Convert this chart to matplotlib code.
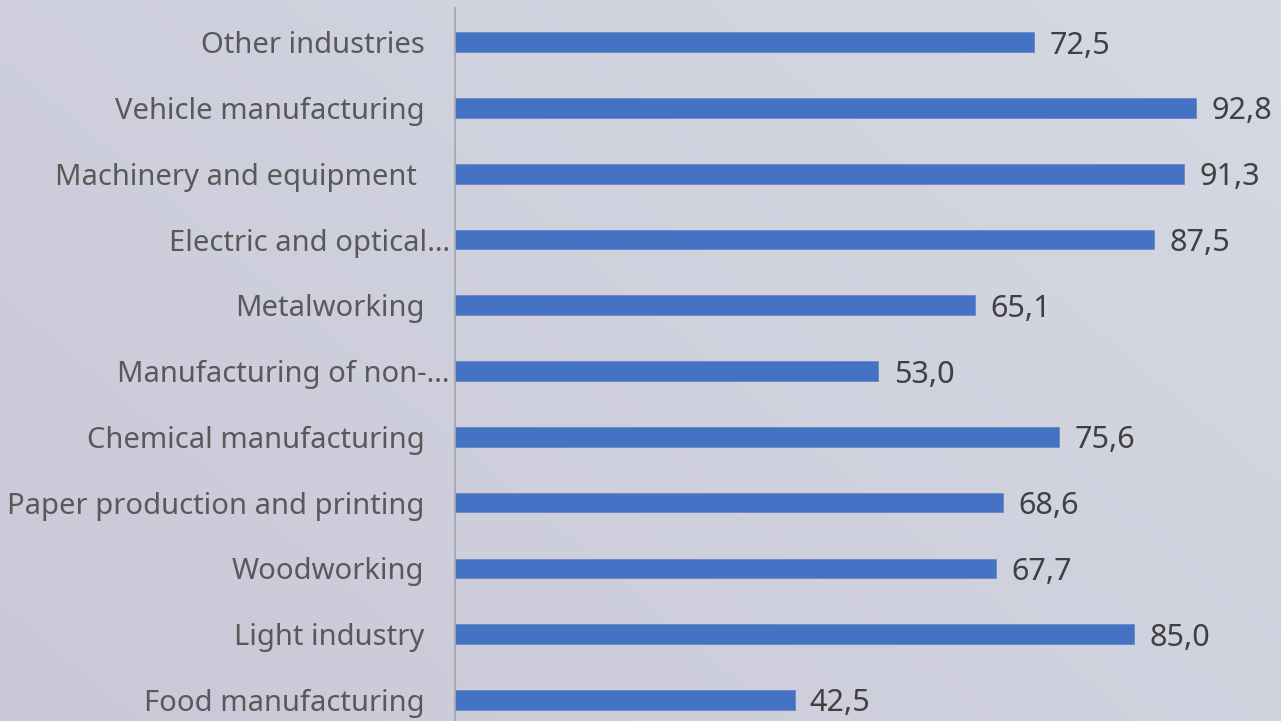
import numpy as np
import matplotlib.pyplot as plt

categories = ['Food manufacturing', 'Light industry', 'Woodworking',
              'Paper production and printing', 'Chemical manufacturing',
              'Manufacturing of non-…', 'Metalworking', 'Electric and optical…',
              'Machinery and equipment ', 'Vehicle manufacturing', 'Other industries']
values = [42.5, 85.0, 67.7, 68.6, 75.6, 53.0, 65.1, 87.5, 91.3, 92.8, 72.5]

plt.rcParams['font.family'] = ['Noto Sans', 'DejaVu Sans']

fig = plt.figure(figsize=(12.81, 7.21), dpi=100)

# background gradient
bg = fig.add_axes([0, 0, 1, 1], zorder=-10)
gx = np.linspace(0, 1, 256)
gy = np.linspace(0, 1, 256)
X, Y = np.meshgrid(gx, gy)
c0 = np.array([0.792, 0.784, 0.847])
c1 = np.array([0.835, 0.851, 0.890])
t = np.clip(0.6 * X + 0.4 * Y, 0, 1)[..., None]
img = c0 * (1 - t) + c1 * t
bg.imshow(img, aspect='auto', extent=[0, 1, 0, 1], origin='lower')
bg.axis('off')

ax = fig.add_axes([455 / 1281, 0, 1 - 455 / 1281, 1 - 8 / 721])
ax.patch.set_alpha(0)

y = np.arange(len(categories))
ax.barh(y, values, height=0.3, color='#4472c4', edgecolor='#6b87bf', linewidth=0.6)
for yi, v in zip(y, values):
    ax.annotate(f'{v:.1f}'.replace('.', ','), (v, yi), xytext=(11, 0),
                textcoords='offset points', va='center_baseline', ha='left',
                fontsize=22, color='#404040')

ax.set_xlim(0, 103.4)
ax.set_ylim(-0.32, 10.52)
ax.set_yticks(y)
ax.set_yticklabels(categories, fontsize=21, color='#595959')
ax.tick_params(axis='y', length=0, pad=22)
ax.set_xticks([])
for s in ['top', 'right', 'bottom']:
    ax.spines[s].set_visible(False)
ax.spines['left'].set_color('#a6a6a6')
ax.spines['left'].set_linewidth(1.2)

for lbl in ax.get_yticklabels():
    if lbl.get_text().endswith('…'):
        lbl.set_x(0.031)

fig.savefig('out.png', dpi=100)
